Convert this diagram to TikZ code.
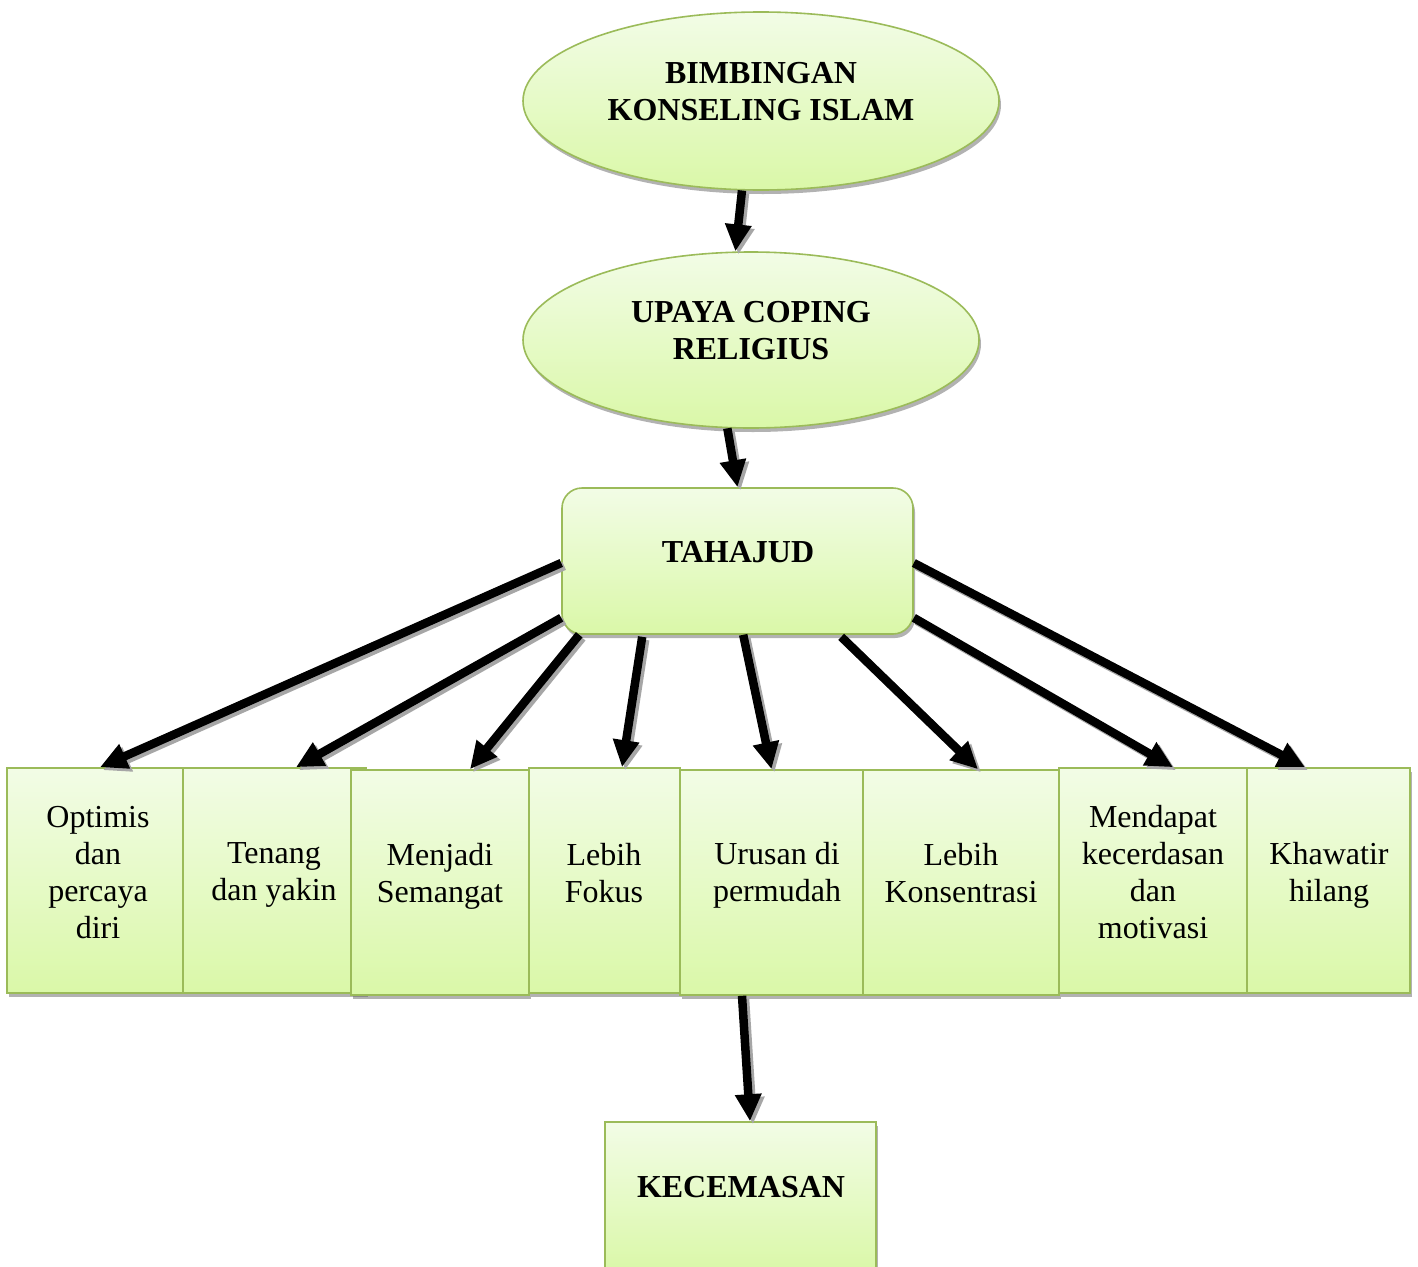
\documentclass[tikz,border=0pt]{standalone}
\usepackage{fontspec}
\setmainfont{Liberation Serif}
\usetikzlibrary{arrows.meta,shapes.geometric,shadows,calc}
\definecolor{bdgreen}{HTML}{9BBB59}
\definecolor{topg}{HTML}{F2FCE6}
\definecolor{botg}{HTML}{DAF8A8}
\newcommand\myarrow[2]{\draw[arrsh] #1 -- #2; \draw[arr] #1 -- #2;}
\begin{document}
\begin{tikzpicture}[x=1pt,y=-1pt,
  shadebox/.style={draw=bdgreen, line width=1.6pt, top color=topg, bottom color=botg,
    drop shadow={shadow xshift=2pt, shadow yshift=-4pt, fill=black!60, opacity=0.5}},
  ell/.style={shadebox, ellipse, inner sep=0pt},
  rbox/.style={shadebox, rectangle, rounded corners=20pt, inner sep=0pt},
  sbox/.style={shadebox, rectangle, inner sep=0pt},
  txt/.style={align=center, inner sep=0pt, font=\fontsize{32}{37}\selectfont},
  btxt/.style={align=center, inner sep=0pt, font=\fontsize{32}{37}\selectfont\bfseries},
  arr/.style={line width=8.5pt, -{Triangle[length=27pt,width=25pt]}},
  arrsh/.style={arr, draw=black!35, fill=black!35, transform canvas={shift={(3pt,-3pt)}}}
]
\useasboundingbox (0,0) rectangle (1418,1266);
\fill[white] (0,0) rectangle (1418,1266);
\clip (0,0) rectangle (1418,1266);

% shapes
\node[ell, minimum width=476, minimum height=178] (e1) at (761,101) {};
\node[ell, minimum width=456, minimum height=176] (e2) at (751,340) {};
\node[rbox, minimum width=351, minimum height=146] (tah) at (737.5,561) {};

\node[sbox, minimum width=176, minimum height=225] (b1) at (95,880.5) {};
\node[sbox, minimum width=183, minimum height=225] (b2) at (274.5,880.5) {};
\node[sbox, minimum width=178, minimum height=225] (b3) at (440,882.5) {};
\node[sbox, minimum width=151, minimum height=225] (b4) at (604.5,880.5) {};
\node[sbox, minimum width=183, minimum height=225] (b5) at (771.5,882.5) {};
\node[sbox, minimum width=196, minimum height=225] (b6) at (961,882.5) {};
\node[sbox, minimum width=188, minimum height=225] (b7) at (1153,880.5) {};
\node[sbox, minimum width=163, minimum height=225] (b8) at (1328.5,880.5) {};

\node[sbox, minimum width=271, minimum height=150] (kec) at (740.5,1197) {};

% texts
\node[btxt] (t1) at (761,92) {BIMBINGAN\\KONSELING ISLAM};
\node[btxt] (t2) at (751,331) {UPAYA COPING\\RELIGIUS};
\node[btxt] (t3) at (738,552) {TAHAJUD};
\node[btxt] (t4) at (741,1187) {KECEMASAN};

\node[txt] (x1) at (98,873) {Optimis\\dan\\percaya\\diri};
\node[txt] (x2) at (274,875) {Tenang\\dan yakin};
\node[txt] (x3) at (440,876) {Menjadi\\Semangat};
\node[txt] (x4) at (604,873) {Lebih\\Fokus};
\node[txt] (x5) at (777,875) {Urusan di\\permudah};
\node[txt] (x6) at (961,873) {Lebih\\Konsentrasi};
\node[txt] (x7) at (1153,872) {Mendapat\\kecerdasan\\dan\\motivasi};
\node[txt] (x8) at (1329,875) {Khawatir\\hilang};

% connectors
\myarrow{(e1.-102)}{(e2.100)}
\myarrow{(e2.-105)}{(tah.north)}
\myarrow{($(tah.west)+(0,2)$)}{($(b1.north)+(5,0)$)}
\myarrow{($(tah.south west)+(0,-17)$)}{($(b2.north)+(21.5,0)$)}
\myarrow{($(tah.south west)+(18,0)$)}{($(b3.north)+(30,0)$)}
\myarrow{($(tah.south west)+(81,2)$)}{($(b4.north)+(17.5,0)$)}
\myarrow{($(tah.south west)+(182,0)$)}{($(b5.north)+(0,0)$)}
\myarrow{($(tah.south west)+(280,2)$)}{($(b6.north)+(17,0)$)}
\myarrow{($(tah.south east)+(0,-17)$)}{($(b7.north)+(20,0)$)}
\myarrow{($(tah.east)+(0,2)$)}{($(b8.north)+(-23.5,0)$)}
\myarrow{($(b5.south)+(-29.5,0)$)}{($(kec.north)+(9.5,0)$)}
\end{tikzpicture}
\end{document}
